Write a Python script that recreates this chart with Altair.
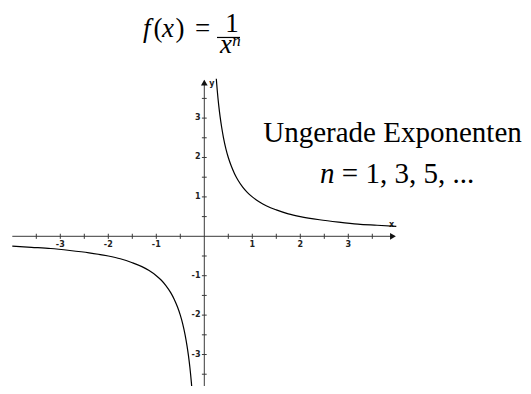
import altair as alt
import pandas as pd

# ---- data: f(x) = 1/x (odd exponent n = 1) ----
right_x = [0.25, 0.27, 0.30, 0.33, 0.36, 0.40, 0.45, 0.50, 0.56, 0.63, 0.70, 0.80, 0.90,
           1.00, 1.15, 1.30, 1.50, 1.75, 2.00, 2.40, 2.80, 3.20, 3.60, 4.00]
right_y = [4.00, 3.70, 3.33, 3.03, 2.78, 2.50, 2.22, 2.00, 1.79, 1.59, 1.43, 1.25, 1.11,
           1.00, 0.87, 0.77, 0.67, 0.57, 0.50, 0.42, 0.36, 0.31, 0.28, 0.25]
left_x = [-4.00, -3.60, -3.20, -2.80, -2.40, -2.00, -1.75, -1.50, -1.30, -1.15, -1.00,
          -0.90, -0.80, -0.70, -0.63, -0.56, -0.50, -0.45, -0.40, -0.36, -0.33, -0.30, -0.27, -0.25]
left_y = [-0.25, -0.28, -0.31, -0.36, -0.42, -0.50, -0.57, -0.67, -0.77, -0.87, -1.00,
          -1.11, -1.25, -1.43, -1.59, -1.79, -2.00, -2.22, -2.50, -2.78, -3.03, -3.33, -3.70, -4.00]

tick_pos = [-3.5, -3, -2.5, -2, -1.5, -1, -0.5, 0.5, 1, 1.5, 2, 2.5, 3, 3.5]
x_label_vals = [-3, -2, -1, 1, 2, 3]
x_label_text = ["-3", "-2", "-1", "1", "2", "3"]
y_label_vals = [3, 2, 1, -1, -2, -3]
y_label_text = ["3", "2", "1", "-1", "-2", "-3"]

# axis extents
x_axis_range = [-4.0, 3.95]
y_axis_range = [-3.8, 3.95]

# scales (data units)
XS = alt.Scale(domain=[-4.0896, 6.6396], nice=False, zero=False)
YS = alt.Scale(domain=[-3.799, 5.794], nice=False, zero=False)

curve_df = pd.DataFrame({
    "x": right_x + left_x,
    "y": right_y + left_y,
    "branch": ["r"] * len(right_x) + ["l"] * len(left_x),
    "order": list(range(len(right_x))) + list(range(len(left_x))),
})

def X(field="x"):
    return alt.X(field, type="quantitative", scale=XS, axis=None)

def Y(field="y"):
    return alt.Y(field, type="quantitative", scale=YS, axis=None)

AX = "#3a3a3a"

x_axis = alt.Chart(pd.DataFrame({"x": [x_axis_range[0]], "x2": [x_axis_range[1]], "y": [0]})).mark_rule(
    color=AX, strokeWidth=1).encode(x=X(), x2="x2", y=Y())
y_axis = alt.Chart(pd.DataFrame({"x": [0], "y": [y_axis_range[0]], "y2": [y_axis_range[1]]})).mark_rule(
    color=AX, strokeWidth=1).encode(x=X(), y=Y(), y2="y2")

xt = pd.DataFrame({"x": tick_pos, "y": [-0.065] * len(tick_pos), "y2": [0.065] * len(tick_pos)})
x_ticks = alt.Chart(xt).mark_rule(color=AX, strokeWidth=1).encode(x=X(), y=Y(), y2="y2")
yt = pd.DataFrame({"y": tick_pos, "x": [-0.05] * len(tick_pos), "x2": [0.05] * len(tick_pos)})
y_ticks = alt.Chart(yt).mark_rule(color=AX, strokeWidth=1).encode(x=X(), x2="x2", y=Y())

x_arrow = alt.Chart(pd.DataFrame({"x": [3.93], "y": [0]})).mark_point(
    shape="triangle-right", filled=True, color="#111", size=45, opacity=1).encode(x=X(), y=Y())
y_arrow = alt.Chart(pd.DataFrame({"x": [0], "y": [3.90]})).mark_point(
    shape="triangle-up", filled=True, color="#111", size=45, opacity=1).encode(x=X(), y=Y())

xl = pd.DataFrame({"x": x_label_vals, "y": [-0.27] * 6, "t": x_label_text})
x_labels = alt.Chart(xl).mark_text(font="DejaVu Sans", fontSize=8, fontWeight="bold",
                                   align="center", baseline="alphabetic", color="#222").encode(
    x=X(), y=Y(), text="t")
yl = pd.DataFrame({"x": [-0.08] * 6, "y": y_label_vals, "t": y_label_text})
y_labels = alt.Chart(yl).mark_text(font="DejaVu Sans", fontSize=8, fontWeight="bold",
                                   align="right", baseline="middle", color="#222").encode(
    x=X(), y=Y(), text="t")

axis_names = alt.Chart(pd.DataFrame({"x": [0.16, 3.90], "y": [3.865, 0.29], "t": ["y", "x"]})).mark_text(
    font="DejaVu Sans", fontSize=8, fontWeight="bold", align="center", baseline="middle", color="#222").encode(
    x=X(), y=Y(), text="t")

curve = alt.Chart(curve_df).mark_line(color="black", strokeWidth=1.2, clip=True,
                                      interpolate="monotone").encode(
    x=X(), y=Y(), detail="branch", order="order")

SERIF = "Liberation Serif"
SERIF_IT = "Times New Roman, Liberation Serif, serif"

# formula f(x) = 1 / x^n
f_up = pd.DataFrame({"x": [-1.06, -0.60, -0.194], "y": [5.058] * 3, "t": ["(", ")", "="]})
f_upright = alt.Chart(f_up).mark_text(font=SERIF, fontSize=27, align="left", baseline="alphabetic",
                                      color="black").encode(x=X(), y=Y(), text="t")
f_it = pd.DataFrame({"x": [-1.277, -0.88], "y": [5.058] * 2, "t": ["f", "x"]})
f_italic = alt.Chart(f_it).mark_text(font=SERIF_IT, fontSize=27, fontStyle="italic", align="left",
                                     baseline="alphabetic", color="black").encode(x=X(), y=Y(), text="t")
f_num = alt.Chart(pd.DataFrame({"x": [0.577], "y": [5.173], "t": ["1"]})).mark_text(
    font=SERIF, fontSize=27, align="center", baseline="alphabetic", color="black").encode(
    x=X(), y=Y(), text="t")
f_bar = alt.Chart(pd.DataFrame({"x": [0.265], "x2": [0.744], "y": [5.046]})).mark_rule(
    color="black", strokeWidth=1.2).encode(x=X(), x2="x2", y=Y())
f_den = alt.Chart(pd.DataFrame({"x": [0.327], "y": [4.652], "t": ["x"]})).mark_text(
    font=SERIF_IT, fontSize=27, fontStyle="italic", align="left", baseline="alphabetic",
    color="black").encode(x=X(), y=Y(), text="t")
f_exp = alt.Chart(pd.DataFrame({"x": [0.580], "y": [4.817], "t": ["n"]})).mark_text(
    font=SERIF_IT, fontSize=17, fontStyle="italic", align="left", baseline="alphabetic",
    color="black").encode(x=X(), y=Y(), text="t")

# annotation
ann1 = alt.Chart(pd.DataFrame({"x": [3.921], "y": [2.393], "t": ["Ungerade Exponenten"]})).mark_text(
    font=SERIF, fontSize=29, align="center", baseline="alphabetic", color="black").encode(
    x=X(), y=Y(), text="t")
ann_n = alt.Chart(pd.DataFrame({"x": [2.410], "y": [1.353], "t": ["n"]})).mark_text(
    font=SERIF_IT, fontSize=29, fontStyle="italic", align="left", baseline="alphabetic",
    color="black").encode(x=X(), y=Y(), text="t")
ann_rest = alt.Chart(pd.DataFrame({"x": [2.864], "y": [1.353], "t": ["= 1, 3, 5, ..."]})).mark_text(
    font=SERIF, fontSize=29, align="left", baseline="alphabetic", color="black").encode(
    x=X(), y=Y(), text="t")

chart = alt.layer(
    x_axis, y_axis, x_ticks, y_ticks, x_arrow, y_arrow, x_labels, y_labels, axis_names,
    curve, f_upright, f_italic, f_num, f_bar, f_den, f_exp, ann1, ann_n, ann_rest,
).properties(
    width=515, height=378, padding=0, autosize=alt.AutoSizeParams(type="none"),
    background="white",
).configure_view(stroke=None)

chart.save("out.html", embed_options={"renderer": "svg", "actions": False})
